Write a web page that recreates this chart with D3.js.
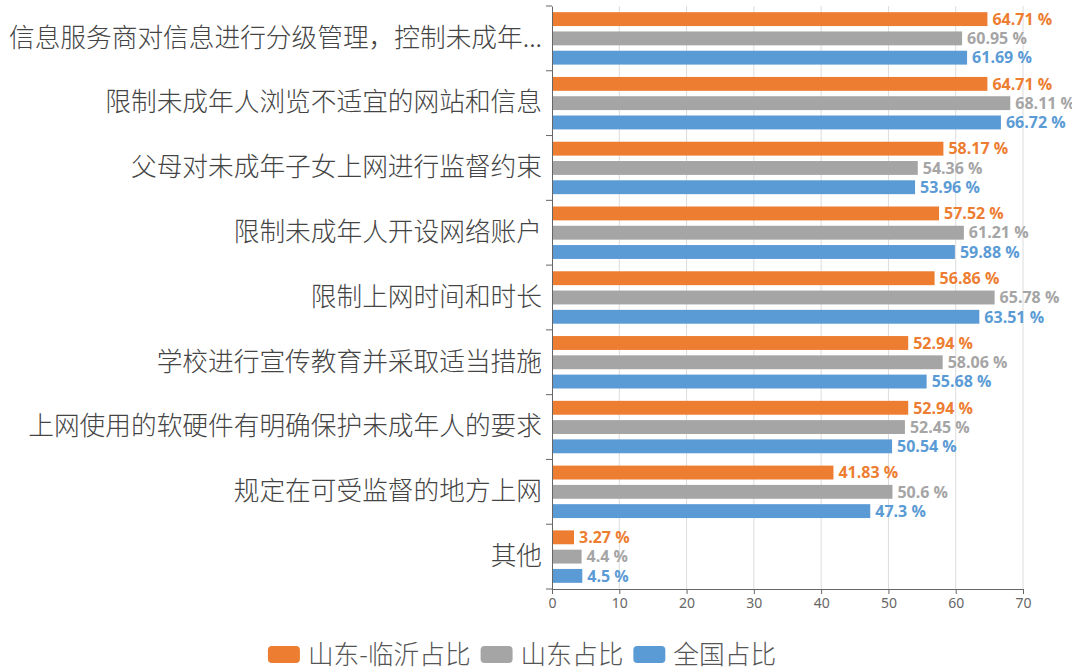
<!DOCTYPE html>
<html><head><meta charset="utf-8">
<script src="https://cdn.jsdelivr.net/npm/d3@7/dist/d3.min.js"></script>
<style>
html,body{margin:0;padding:0;background:#fff;overflow:hidden}
svg{display:block}
</style></head>
<body>
<svg id="chart" width="1072" height="670"></svg>
<script>
const categories = [
  "信息服务商对信息进行分级管理，控制未成年...",
  "限制未成年人浏览不适宜的网站和信息",
  "父母对未成年子女上网进行监督约束",
  "限制未成年人开设网络账户",
  "限制上网时间和时长",
  "学校进行宣传教育并采取适当措施",
  "上网使用的软硬件有明确保护未成年人的要求",
  "规定在可受监督的地方上网",
  "其他"
];
const seriesNames = ["山东-临沂占比", "山东占比", "全国占比"];
const linyi = [64.71, 64.71, 58.17, 57.52, 56.86, 52.94, 52.94, 41.83, 3.27];
const shandong = [60.95, 68.11, 54.36, 61.21, 65.78, 58.06, 52.45, 50.6, 4.4];
const national = [61.69, 66.72, 53.96, 59.88, 63.51, 55.68, 50.54, 47.3, 4.5];
const xTicks = [0, 10, 20, 30, 40, 50, 60, 70];
const colors = ["#ED7D31", "#A5A5A5", "#5B9BD5"];

(function () {
const series = [linyi, shandong, national];
const svg = d3.select("#chart");
const mLeft = 552, mRight = 1023, mTop = 6, mBottom = 589;
const font = "'Noto Sans CJK SC','Noto Sans',sans-serif";

const x = d3.scaleLinear().domain([0, 70]).range([mLeft, mRight]);
const y = d3.scaleBand().domain(categories).range([mTop, mBottom]).paddingInner(0).paddingOuter(0);
const inner = d3.scaleBand().domain([0, 1, 2]).range([0, y.bandwidth()]).paddingInner(0.28).paddingOuter(0.32);

// grid
svg.append("g").selectAll("line").data(xTicks.slice(1)).join("line")
  .attr("x1", d => x(d)).attr("x2", d => x(d))
  .attr("y1", mTop).attr("y2", mBottom)
  .attr("stroke", "#dcdcdc").attr("stroke-width", 1);

// bars
series.forEach((vals, si) => {
  const g = svg.append("g");
  g.selectAll("rect").data(vals).join("rect")
    .attr("x", x(0))
    .attr("y", (d, i) => y(categories[i]) + inner(si))
    .attr("width", d => x(d) - x(0))
    .attr("height", inner.bandwidth())
    .attr("fill", colors[si]);
  g.selectAll("text").data(vals).join("text")
    .attr("x", d => x(d) + 5)
    .attr("y", (d, i) => y(categories[i]) + inner(si) + inner.bandwidth() / 2)
    .attr("dy", "0.36em")
    .attr("fill", colors[si])
    .attr("font-family", "'Open Sans','Noto Sans',sans-serif")
    .attr("font-weight", 700)
    .attr("font-size", 16)
    .text(d => d + " %");
});

// x axis
const xAxis = svg.append("g").attr("transform", `translate(0,${mBottom})`)
  .call(d3.axisBottom(x).tickValues(xTicks).tickSize(5).tickPadding(4));
xAxis.select(".domain").attr("stroke", "#666");
xAxis.selectAll(".tick line").attr("stroke", "#666");
xAxis.selectAll(".tick text").attr("fill", "#666").attr("font-size", 14)
  .attr("font-family", "'Noto Sans',sans-serif");

// y axis
const yAxis = svg.append("g").attr("transform", `translate(${mLeft},0)`)
  .call(d3.axisLeft(y).tickSize(0).tickPadding(10));
yAxis.select(".domain").attr("stroke", "#666");
yAxis.selectAll(".tick text").attr("fill", "#444").attr("font-size", 25.7)
  .attr("font-weight", 300)
  .attr("font-family", font);
const bounds = categories.map(c => y(c)).concat([mBottom]);
svg.append("g").selectAll("line").data(bounds).join("line")
  .attr("x1", mLeft - 6).attr("x2", mLeft)
  .attr("y1", d => d).attr("y2", d => d)
  .attr("stroke", "#666");

// legend
const leg = svg.append("g");
const items = leg.selectAll("g").data(seriesNames).join("g");
items.append("rect").attr("width", 32).attr("height", 17).attr("rx", 4)
  .attr("fill", (d, i) => colors[i]);
items.append("text").attr("x", 40).attr("y", 8.5).attr("dy", "0.36em")
  .attr("fill", "#555").attr("font-size", 25.7).attr("font-weight", 300).attr("font-family", font)
  .text(d => d);
const widths = [];
items.each(function () { widths.push(this.getBBox().width); });
const gap = 10;
const total = d3.sum(widths) + gap * (widths.length - 1);
let cx = 522 - total / 2;
items.attr("transform", (d, i) => {
  const t = `translate(${cx},646)`;
  cx += widths[i] + gap;
  return t;
});
})();
</script>
</body></html>
